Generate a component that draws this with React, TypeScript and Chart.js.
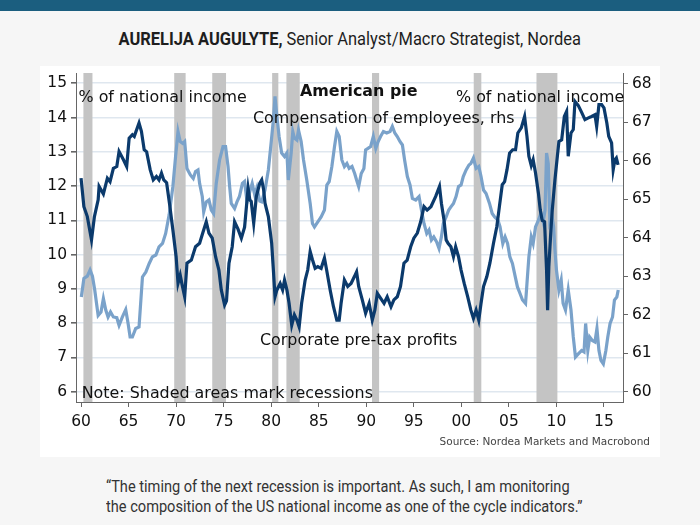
import React, { useEffect, useRef } from "react";
import { Chart, registerables } from "chart.js";

Chart.register(...registerables);

// Corporate pre-tax profits, % of national income (left axis)
const profitYears = [
  1960.0, 1960.3, 1960.66, 1961.1, 1961.4, 1961.8, 1961.9, 1962.35, 1962.77, 1963.05,
  1963.4, 1963.76, 1964.0, 1964.46, 1964.8, 1965.06, 1965.4, 1965.6, 1966.1, 1966.35,
  1966.64, 1966.9, 1967.27, 1967.6, 1967.93, 1968.2, 1968.46, 1968.7, 1969.0, 1969.3,
  1969.66, 1970.0, 1970.2, 1970.43, 1970.6, 1970.9, 1971.14, 1971.6, 1972.04, 1972.47,
  1972.8, 1973.17, 1973.45, 1973.8, 1974.15, 1974.5, 1974.75, 1975.1, 1975.3, 1975.56,
  1975.9, 1976.15, 1976.5, 1976.86, 1977.2, 1977.57, 1977.75, 1977.9, 1978.16, 1978.44,
  1978.8, 1979.0, 1979.2, 1979.35, 1979.7, 1980.05, 1980.23, 1980.4, 1980.6, 1980.94,
  1981.2, 1981.4, 1981.65, 1981.88, 1982.16, 1982.44, 1982.7, 1982.94, 1983.2, 1983.57,
  1983.84, 1984.1, 1984.34, 1984.62, 1984.9, 1985.25, 1985.6, 1985.83, 1986.2, 1986.55,
  1986.9, 1987.15, 1987.35, 1987.7, 1988.05, 1988.4, 1988.75, 1988.98, 1989.2, 1989.58,
  1989.93, 1990.3, 1990.63, 1990.9, 1991.16, 1991.5, 1991.87, 1992.2, 1992.6, 1992.9,
  1993.26, 1993.6, 1993.96, 1994.3, 1994.67, 1995.0, 1995.37, 1995.72, 1996.07, 1996.4,
  1996.8, 1997.3, 1997.7, 1997.9, 1998.18, 1998.4, 1998.6, 1998.9, 1999.17, 1999.4,
  1999.7, 1999.97, 2000.3, 2000.67, 2001.0, 2001.27, 2001.55, 2001.83, 2002.07, 2002.33,
  2002.68, 2003.0, 2003.38, 2003.73, 2004.0, 2004.3, 2004.55, 2004.8, 2005.07, 2005.4,
  2005.7, 2005.94, 2006.3, 2006.65, 2006.9, 2007.1, 2007.35, 2007.55, 2007.8, 2008.1,
  2008.3, 2008.5, 2008.75, 2008.96, 2009.07, 2009.2, 2009.42, 2009.56, 2009.84, 2010.13,
  2010.26, 2010.55, 2010.83, 2011.07, 2011.24, 2011.53, 2011.77, 2011.95, 2012.3, 2012.65,
  2013.0, 2013.36, 2013.7, 2014.05, 2014.23, 2014.47, 2014.75, 2015.0, 2015.3, 2015.5,
  2015.8, 2015.97, 2016.15, 2016.3, 2016.48,
];
const profitValues = [
  12.23, 11.4, 11.11, 10.43, 11.1, 11.6, 11.99, 11.77, 12.23, 12.13,
  12.52, 12.57, 13.01, 12.77, 12.57, 13.4, 13.5, 13.45, 13.84, 13.6,
  13.06, 13.0, 12.48, 12.18, 12.28, 12.18, 12.38, 12.18, 12.1, 11.5,
  10.72, 9.94, 9.16, 9.4, 9.16, 8.77, 9.75, 9.84, 10.23, 10.33,
  10.63, 10.96, 10.63, 10.48, 9.94, 9.55, 8.97, 8.53, 8.65, 9.75,
  10.23, 10.96, 10.75, 10.48, 10.8, 11.94, 11.6, 11.55, 10.92, 11.7,
  12.09, 12.18, 11.9, 11.5, 11.11, 10.33, 9.55, 8.77, 8.97, 9.16,
  8.97, 9.26, 8.97, 8.58, 7.94, 8.24, 8.09, 7.89, 8.58, 9.26,
  9.55, 10.09, 9.85, 9.6, 9.65, 9.6, 9.9, 9.55, 8.97, 8.48,
  8.09, 8.09, 8.58, 9.26, 9.07, 9.16, 9.36, 9.5, 9.07, 8.68,
  8.29, 8.58, 8.09, 8.38, 8.87, 8.73, 8.58, 8.77, 8.48, 8.68,
  8.77, 9.07, 9.75, 9.84, 10.23, 10.48, 10.63, 10.96, 11.4, 11.3,
  11.4, 11.7, 11.99, 11.5, 11.0, 10.43, 10.33, 10.23, 9.94, 10.23,
  9.94, 9.55, 9.16, 8.77, 8.38, 8.14, 8.38, 8.09, 8.58, 9.07,
  9.36, 9.75, 10.33, 10.82, 11.4, 12.04, 12.13, 12.48, 12.96, 13.06,
  13.06, 13.55, 13.7, 14.03, 13.45, 12.87, 12.6, 12.77, 12.38, 11.8,
  11.3, 11.0, 10.96, 9.55, 8.38, 9.65, 10.72, 11.3, 12.18, 12.96,
  13.3, 13.35, 14.03, 14.18, 12.87, 13.55, 13.65, 14.47, 14.35, 14.15,
  13.94, 13.99, 14.03, 14.08, 13.74, 14.38, 14.38, 14.28, 13.84, 13.45,
  13.26, 12.48, 12.77, 12.82, 12.62,
];

// Compensation of employees, % of national income (right axis)
const compYears = [
  1960.03, 1960.3, 1960.66, 1960.95, 1961.2, 1961.44, 1961.8, 1962.1, 1962.35, 1962.6,
  1962.84, 1963.1, 1963.4, 1963.76, 1964.0, 1964.35, 1964.7, 1964.95, 1965.16, 1965.4,
  1965.75, 1966.1, 1966.46, 1966.82, 1967.17, 1967.5, 1967.87, 1968.2, 1968.57, 1968.9,
  1969.27, 1969.66, 1969.94, 1970.2, 1970.43, 1970.7, 1970.9, 1971.14, 1971.5, 1971.8,
  1972.04, 1972.3, 1972.47, 1972.75, 1972.9, 1973.17, 1973.45, 1973.7, 1973.94, 1974.22,
  1974.57, 1974.93, 1975.2, 1975.46, 1975.63, 1975.8, 1976.15, 1976.4, 1976.66, 1976.97,
  1977.2, 1977.46, 1977.75, 1978.0, 1978.27, 1978.5, 1978.8, 1979.0, 1979.35, 1979.7,
  1979.99, 1980.23, 1980.4, 1980.58, 1980.83, 1981.1, 1981.4, 1981.65, 1981.8, 1982.1,
  1982.27, 1982.44, 1982.7, 1982.87, 1983.15, 1983.4, 1983.74, 1984.1, 1984.34, 1984.55,
  1984.9, 1985.25, 1985.6, 1985.85, 1986.1, 1986.38, 1986.66, 1986.9, 1987.15, 1987.43,
  1987.7, 1987.96, 1988.2, 1988.5, 1988.78, 1988.98, 1989.2, 1989.47, 1989.75, 1989.93,
  1990.18, 1990.46, 1990.74, 1991.0, 1991.25, 1991.5, 1991.8, 1992.15, 1992.5, 1992.74,
  1993.0, 1993.26, 1993.54, 1993.8, 1994.03, 1994.32, 1994.6, 1994.85, 1995.2, 1995.55,
  1995.8, 1996.07, 1996.36, 1996.6, 1996.85, 1997.1, 1997.4, 1997.65, 1997.9, 1998.1,
  1998.4, 1998.67, 1998.9, 1999.17, 1999.44, 1999.7, 1999.97, 2000.2, 2000.5, 2000.8,
  2001.0, 2001.27, 2001.55, 2001.83, 2002.07, 2002.33, 2002.6, 2002.96, 2003.24, 2003.5,
  2003.84, 2004.07, 2004.36, 2004.6, 2004.86, 2005.1, 2005.37, 2005.67, 2005.9, 2006.17,
  2006.43, 2006.75, 2006.9, 2007.1, 2007.35, 2007.55, 2007.8, 2008.1, 2008.37, 2008.6,
  2008.8, 2008.96, 2009.14, 2009.3, 2009.5, 2009.7, 2009.84, 2010.0, 2010.26, 2010.5,
  2010.7, 2010.95, 2011.24, 2011.53, 2011.77, 2012.0, 2012.3, 2012.65, 2012.9, 2013.07,
  2013.3, 2013.5, 2013.77, 2014.05, 2014.26, 2014.47, 2014.68, 2014.93, 2015.2, 2015.4,
  2015.64, 2015.9, 2016.1, 2016.35, 2016.5,
];
const compValues = [
  62.46, 62.94, 63.0, 63.16, 63.0, 62.64, 61.98, 62.07, 62.42, 62.12,
  61.94, 62.07, 61.94, 61.92, 61.72, 61.94, 62.13, 61.77, 61.42, 61.42,
  61.64, 61.68, 62.98, 63.11, 63.33, 63.5, 63.55, 63.76, 63.85, 64.11,
  64.6, 65.33, 66.1, 66.76, 66.5, 66.45, 66.5, 65.8, 65.63, 65.54,
  65.72, 65.76, 65.41, 65.07, 64.67, 64.93, 64.98, 64.72, 64.63, 65.41,
  66.02, 66.37, 66.37, 65.85, 65.33, 64.89, 64.76, 64.93, 65.07, 65.41,
  65.46, 64.93, 65.2, 65.41, 65.11, 65.3, 64.95, 64.93, 65.24, 65.76,
  66.46, 67.06, 67.67, 67.2, 66.63, 66.2, 66.11, 66.2, 65.5, 66.2,
  66.76, 66.59, 66.54, 66.8, 66.5, 66.02, 65.5, 64.89, 64.37, 64.28,
  64.41, 64.54, 64.72, 65.37, 65.46, 65.85, 66.37, 66.76, 66.63, 66.02,
  65.85, 65.93, 65.8, 65.85, 65.67, 65.5, 65.33, 65.67, 65.8, 66.28,
  66.32, 66.37, 66.63, 66.32, 66.5, 66.63, 66.76, 66.72, 66.76, 66.89,
  66.72, 66.63, 66.5, 66.41, 66.02, 65.59, 65.37, 65.02, 64.98, 65.07,
  64.72, 64.37, 64.11, 64.2, 63.94, 64.02, 63.89, 63.72, 64.02, 64.37,
  64.54, 64.72, 64.8, 64.89, 65.07, 65.33, 65.37, 65.59, 65.76, 65.89,
  65.93, 66.07, 65.8, 65.85, 65.59, 65.24, 65.15, 64.89, 64.63, 64.54,
  64.46, 64.28, 63.85, 64.02, 63.85, 63.5, 63.33, 62.98, 62.72, 62.55,
  62.38, 62.29, 62.81, 63.5, 64.02, 63.85, 64.28, 64.45, 64.63, 64.41,
  64.72, 66.2, 65.93, 64.46, 64.63, 64.28, 63.68, 63.16, 62.64, 62.9,
  62.29, 62.12, 62.64, 62.12, 61.42, 60.9, 60.98, 61.07, 61.03, 61.77,
  61.07, 61.42, 61.33, 61.29, 61.64, 61.07, 60.81, 60.72, 61.07, 61.42,
  61.77, 61.94, 62.38, 62.46, 62.64,
];

// US recessions (shaded)
const recessionStarts = [1960.25, 1969.8, 1973.8, 1980.1, 1981.6, 1990.6, 2001.3, 2007.9];
const recessionEnds = [1961.2, 1971.0, 1975.25, 1980.75, 1983.0, 1991.35, 2002.1, 2010.1];

// Tick labels
const xTickYears = [1960, 1965, 1970, 1975, 1980, 1985, 1990, 1995, 2000, 2005, 2010, 2015];
const xTickLabels = ["60", "65", "70", "75", "80", "85", "90", "95", "00", "05", "10", "15"];
const leftTicks = [6, 7, 8, 9, 10, 11, 12, 13, 14, 15];
const rightTicks = [60, 61, 62, 63, 64, 65, 66, 67, 68];

const DARK = "#0b3a6c";
const LIGHT = "#7aa2ca";
const AXIS = "#666666";
const TICK_FONT = { family: "'DejaVu Sans', Verdana, sans-serif", size: 15.5 };

export default function App() {
  const canvasRef = useRef<HTMLCanvasElement>(null);

  useEffect(() => {
    if (!canvasRef.current) return;

    const recessionPlugin = {
      id: "recessions",
      beforeDatasetsDraw(chart: any) {
        const { ctx, chartArea: ca, scales } = chart;
        const x = scales.x;
        ctx.save();
        ctx.fillStyle = "#c4c4c4";
        recessionStarts.forEach((s, i) => {
          const x0 = x.getPixelForValue(s);
          const x1 = x.getPixelForValue(recessionEnds[i]);
          ctx.fillRect(x0, ca.top, x1 - x0, ca.bottom - ca.top);
        });
        ctx.restore();
      },
    };

    const labelsPlugin = {
      id: "annotations",
      afterDatasetsDraw(chart: any) {
        const { ctx, chartArea: ca } = chart;
        ctx.save();
        ctx.fillStyle = "#111111";
        ctx.textBaseline = "alphabetic";
        ctx.textAlign = "left";
        ctx.font = "15.9px 'DejaVu Sans', Verdana, sans-serif";
        ctx.fillText("% of national income", ca.left + 2.5, ca.top + 29);
        ctx.fillText("% of national income", ca.left + 380, ca.top + 29);
        ctx.fillText("Compensation of employees, rhs", ca.left + 177, ca.top + 49.5);
        ctx.fillText("Corporate pre-tax profits", ca.left + 184, ca.top + 272);
        ctx.fillText("Note: Shaded areas mark recessions", ca.left + 5.7, ca.top + 324.5);
        ctx.font = "bold 15.9px 'DejaVu Sans', Verdana, sans-serif";
        ctx.fillText("American pie", ca.left + 224, ca.top + 22.5);
        ctx.font = "10.5px 'DejaVu Sans', Verdana, sans-serif";
        ctx.fillStyle = "#444444";
        ctx.textAlign = "right";
        ctx.fillText("Source: Nordea Markets and Macrobond", chart.width - 10, ca.bottom + 43);
        ctx.restore();
      },
    };

    const chart = new Chart(canvasRef.current, {
      type: "line",
      data: {
        datasets: [
          {
            label: "Corporate pre-tax profits",
            data: profitYears.map((x, i) => ({ x, y: profitValues[i] })),
            borderColor: DARK,
            borderWidth: 3.2,
            pointRadius: 0,
            tension: 0,
            yAxisID: "y",
          },
          {
            label: "Compensation of employees, rhs",
            data: compYears.map((x, i) => ({ x, y: compValues[i] })),
            borderColor: LIGHT,
            borderWidth: 3.2,
            pointRadius: 0,
            tension: 0,
            yAxisID: "y1",
          },
        ],
      },
      options: {
        animation: false,
        responsive: false,
        devicePixelRatio: 1,
        layout: { padding: { top: 7, left: 0, right: 0, bottom: 0 } },
        plugins: {
          legend: { display: false },
          tooltip: { enabled: false },
        },
        scales: {
          x: {
            type: "linear",
            min: 1959.47,
            max: 2017.0,
            afterBuildTicks: (s: any) => {
              s.ticks = xTickYears.map((v) => ({ value: v }));
            },
            afterFit: (s: any) => {
              s.height = 55;
              s.paddingLeft = 0;
              s.paddingRight = 0;
            },
            ticks: {
              callback: (v: any) => xTickLabels[xTickYears.indexOf(Number(v))],
              font: TICK_FONT,
              color: "#111111",
              padding: 6,
              maxRotation: 0,
              autoSkip: false,
            },
            grid: { drawOnChartArea: false, drawTicks: true, tickLength: 5, tickColor: AXIS },
            border: { color: AXIS, width: 1 },
          },
          y: {
            type: "linear",
            position: "left",
            min: 5.7,
            max: 15.3,
            afterBuildTicks: (s: any) => {
              s.ticks = leftTicks.map((v) => ({ value: v }));
            },
            afterFit: (s: any) => {
              s.width = 36;
              s.paddingTop = 0;
              s.paddingBottom = 0;
            },
            ticks: { font: TICK_FONT, color: "#111111", padding: 4 },
            grid: { color: "#dfe7ef", lineWidth: 1.6, tickLength: 5, tickColor: AXIS },
            border: { color: AXIS, width: 1 },
          },
          y1: {
            type: "linear",
            position: "right",
            min: 59.73,
            max: 68.28,
            afterBuildTicks: (s: any) => {
              s.ticks = rightTicks.map((v) => ({ value: v }));
            },
            afterFit: (s: any) => {
              s.width = 37;
              s.paddingTop = 0;
              s.paddingBottom = 0;
            },
            ticks: { font: TICK_FONT, color: "#111111", padding: 4 },
            grid: { drawOnChartArea: false, tickLength: 5, tickColor: AXIS },
            border: { color: AXIS, width: 1 },
          },
        },
      },
      plugins: [recessionPlugin, labelsPlugin],
    } as any);

    return () => chart.destroy();
  }, []);

  return (
    <div
      style={{
        position: "absolute",
        left: 0,
        top: 0,
        width: 700,
        height: 525,
        background: "#f6f6f6",
        overflow: "hidden",
        fontFamily: "Roboto, sans-serif",
      }}
    >
      <div style={{ position: "absolute", left: 0, top: 0, width: 700, height: 11, background: "#1b5e7f" }} />
      <div
        style={{
          position: "absolute",
          left: 0,
          top: 26,
          width: 700,
          textAlign: "center",
          fontSize: 18,
          lineHeight: "26px",
          color: "#1e1e1e",
        }}
      >
        <span style={{ display: "inline-block", transform: "scaleX(0.915)", transformOrigin: "center" }}>
          <b>AURELIJA AUGULYTE,</b> Senior Analyst/Macro Strategist, Nordea
        </span>
      </div>
      <div style={{ position: "absolute", left: 40, top: 66, width: 620, height: 391, background: "#ffffff" }}>
        <canvas ref={canvasRef} width={620} height={391} style={{ display: "block", width: 620, height: 391 }} />
      </div>
      <div
        style={{
          position: "absolute",
          left: 106,
          top: 477,
          fontSize: 16,
          lineHeight: "20px",
          color: "#333333",
          whiteSpace: "nowrap",
          transform: "scaleX(0.912)",
          transformOrigin: "left top",
        }}
      >
        “The timing of the next recession is important. As such, I am monitoring
        <br />
        the composition of the US national income as one of the cycle indicators.”
      </div>
    </div>
  );
}
